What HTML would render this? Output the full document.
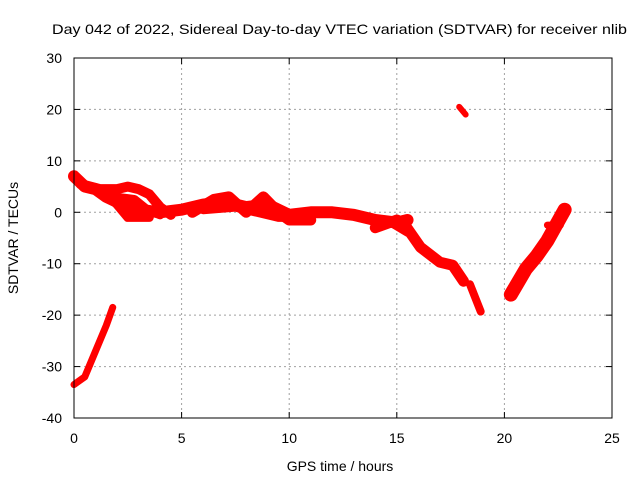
<!DOCTYPE html>
<html><head><meta charset="utf-8"><style>
body{margin:0;background:#fff}
svg{display:block;font-family:"Liberation Sans",sans-serif;font-size:14px}
</style></head><body>
<svg id="chart" width="640" height="480">
<text x="52" y="34" textLength="575" lengthAdjust="spacingAndGlyphs">Day 042 of 2022, Sidereal Day-to-day VTEC variation (SDTVAR) for receiver nlib</text>
<text x="340" y="471" text-anchor="middle">GPS time / hours</text>
<text transform="translate(18,238) rotate(-90)" text-anchor="middle">SDTVAR / TECUs</text>
<g id="grid"></g>
<g id="series"></g>
<rect x="74" y="58" width="538" height="360" fill="none" stroke="#000" stroke-width="1"/>
<g id="ticks"></g>
</svg>
<script>
const xTicks=[0,5,10,15,20,25];
const yTicks=[-40,-30,-20,-10,0,10,20,30];
const tracks=[
 [[0,7],[0.5,5],[1,4.5],[1.5,3],[2,2],[2.5,1],[3,0.5],[4,0],[5,0.5],[6,1.5],[7,2],[8,1],[9,1.5],[10,-0.5],[11,0],[12,0],[13,-0.5],[14,-1.5],[15,-2],[15.5,-1.5]],
 [[0.3,5.5],[1.2,4.5],[2,4.5],[2.5,5],[3,4.5],[3.5,3.5],[4,1],[4.5,-0.5]],
 [[1.3,4.5],[2,1.5],[2.5,-1],[3.5,-1]],
 [[1.8,3],[2.8,2.5],[3.4,0.5],[4,-0.5]],
 [[5.5,0],[6.5,2.5],[7.2,3],[8,0],[8.8,3],[9.5,0],[10,-1.5],[11,-1.5]],
 [[6,0.5],[7.5,1],[8.5,0],[9.5,-1],[11,-1]],
 [[14,-3],[15,-1.5],[15.3,-2],[16.1,-6.8],[17,-9.7],[17.6,-10.3],[18.1,-13.4]],
 [[14.5,-1.5],[15.5,-4]],
 [[18.4,-14],[18.9,-19.3]],
 [[17.9,20.5],[18.2,19]],
 [[0,-33.5],[0.5,-32],[1,-27],[1.5,-22],[1.8,-18.5]],
 [[20.3,-16],[21,-11],[21.5,-8.5],[22,-5.5],[22.8,0.5]],
 [[22,-2.5],[22.6,-2.5]]
];
const widths=[12,10,9,9,11,9,11,8,8,6,7,14,7];
const X=t=>74+t*538/25, Y=v=>418-(v+40)*360/70;
const NS="http://www.w3.org/2000/svg";
const grid=document.getElementById('grid'),ticks=document.getElementById('ticks'),ser=document.getElementById('series');
function mk(tag,at,parent){const e=document.createElementNS(NS,tag);for(const k in at)e.setAttribute(k,at[k]);parent.appendChild(e);return e;}
xTicks.forEach(t=>{
 if(t>0&&t<25){const l=mk('line',{x1:X(t),x2:X(t),y1:58,y2:418,stroke:'#a0a0a0','stroke-dasharray':'2,3'},grid);
 
 }
 mk('line',{x1:X(t),x2:X(t),y1:418,y2:412,stroke:'#000'},ticks);
 mk('line',{x1:X(t),x2:X(t),y1:58,y2:64,stroke:'#000'},ticks);
 const tx=mk('text',{x:X(t),y:443,'text-anchor':'middle'},ticks);tx.textContent=t;
 
 
});
yTicks.forEach(v=>{
 if(v>-40&&v<30){const l=mk('line',{x1:74,x2:612,y1:Y(v),y2:Y(v),stroke:'#a0a0a0','stroke-dasharray':'2,3'},grid);
 
 }
 mk('line',{x1:74,x2:80,y1:Y(v),y2:Y(v),stroke:'#000'},ticks);
 mk('line',{x1:612,x2:606,y1:Y(v),y2:Y(v),stroke:'#000'},ticks);
 const tx=mk('text',{x:62,y:Y(v)+5,'text-anchor':'end'},ticks);tx.textContent=v;
 
 
});
tracks.forEach((tr,i)=>{
 const p=mk('polyline',{points:tr.map(d=>X(d[0])+','+Y(d[1])).join(' '),fill:'none',stroke:'#f00','stroke-width':widths[i],'stroke-linejoin':'round','stroke-linecap':'round'},ser);
 
 
});
</script>
</body></html>
